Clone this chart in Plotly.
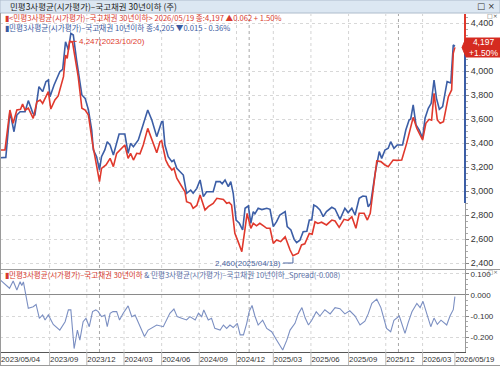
import pandas as pd
import plotly.graph_objects as go

START = pd.Timestamp("2023-05-04")
W, H = 500, 368

# ---- data (day offset from 2023-05-04, value) ----
red_days = [0, 11, 23, 31, 40, 49, 54, 60, 68, 80, 89, 97, 103, 117, 123, 133, 141, 154, 159, 163, 169, 176,
            190, 199, 207, 215, 225, 231, 242, 247, 258, 268, 276, 284, 304, 312, 318, 325, 333, 341, 349, 360,
            370, 382, 390, 394, 404, 410, 419, 424, 431, 443, 451, 455, 465, 471, 480, 488, 500, 508, 520, 529,
            545, 553, 559, 565, 573, 581, 590, 598, 603, 612, 618, 626, 634, 643, 651, 659, 667, 675, 685, 696,
            701, 708, 715, 728, 736, 744, 755, 762, 769, 776, 785, 797, 810, 818, 828, 840, 850, 859, 869, 877,
            889, 897, 904, 920, 930, 940, 948, 960, 969, 981, 993, 1003, 1009, 1018, 1026, 1032, 1040, 1048,
            1054, 1060, 1068, 1075, 1083, 1095, 1103, 1107, 1111]
red_vals = [3342, 3342, 3675, 3564, 3675, 3680, 3725, 3675, 3690, 3606, 3744, 3758, 3730, 3828, 3683, 3758, 3792,
            3953, 4133, 4106, 4247, 4240, 3953, 3689, 3675, 3633, 3397, 3286, 3078, 3189, 3217, 3272, 3203, 3314,
            3383, 3272, 3314, 3258, 3314, 3310, 3383, 3522, 3425, 3319, 3411, 3419, 3258, 3217, 3175, 3190, 3106,
            3036, 2994, 2911, 2897, 2856, 2880, 2967, 2842, 2870, 2897, 2939, 2930, 2897, 2905, 2883, 2647, 2578,
            2494, 2689, 2814, 2689, 2731, 2710, 2731, 2710, 2689, 2689, 2564, 2592, 2578, 2619, 2564, 2508, 2460,
            2481, 2550, 2560, 2647, 2640, 2744, 2730, 2740, 2717, 2758, 2750, 2697, 2764, 2755, 2786, 2689, 2814,
            2814, 2758, 2814, 3250, 3245, 3217, 3203, 3258, 3255, 3258, 3397, 3536, 3614, 3522, 3467, 3425, 3564,
            3597, 3590, 3814, 3592, 3564, 3578, 3786, 3842, 4147, 4197]

blue_days = [0, 13, 23, 33, 40, 48, 60, 68, 79, 84, 94, 103, 111, 117, 121, 131, 145, 152, 159, 166, 172, 178,
             186, 199, 207, 215, 223, 227, 235, 242, 247, 255, 261, 268, 276, 282, 290, 304, 312, 318, 325, 337,
             348, 360, 370, 382, 394, 397, 402, 410, 419, 424, 431, 439, 447, 455, 465, 471, 480, 488, 496, 504,
             520, 527, 537, 542, 549, 557, 563, 569, 576, 584, 592, 598, 606, 612, 618, 622, 630, 639, 651, 659,
             667, 675, 683, 696, 701, 710, 718, 724, 732, 740, 749, 755, 761, 766, 773, 781, 789, 797, 810, 818,
             830, 842, 850, 859, 867, 877, 886, 894, 899, 905, 916, 926, 932, 940, 948, 954, 962, 970, 983, 991,
             999, 1003, 1009, 1016, 1024, 1032, 1038, 1046, 1053, 1060, 1066, 1073, 1081, 1092, 1101, 1107, 1111]
blue_vals = [3277, 3280, 3661, 3494, 3633, 3661, 3661, 3753, 3650, 3630, 3869, 3828, 3911, 3925, 3786, 3883, 3994,
             4014, 4244, 4175, 4314, 4300, 4092, 3800, 3772, 3675, 3508, 3342, 3286, 3175, 3286, 3342, 3411, 3383,
             3300, 3369, 3475, 3475, 3314, 3397, 3369, 3425, 3536, 3675, 3592, 3453, 3578, 3580, 3383, 3286, 3244,
             3258, 3189, 3161, 3133, 2981, 3008, 2981, 3022, 3092, 2953, 2994, 2994, 3078, 3078, 3060, 3092, 3036,
             3078, 2981, 2758, 2731, 2675, 2856, 2875, 2731, 2828, 2810, 2856, 2845, 2856, 2847, 2703, 2744, 2800,
             2828, 2703, 2675, 2597, 2569, 2590, 2661, 2665, 2758, 2758, 2883, 2870, 2842, 2786, 2828, 2864, 2850,
             2764, 2856, 2820, 2856, 2800, 2939, 2958, 2955, 2869, 2897, 3147, 3328, 3272, 3342, 3356, 3411, 3356,
             3383, 3383, 3508, 3592, 3600, 3717, 3550, 3508, 3439, 3606, 3689, 3731, 3925, 3772, 3681, 3703, 3911,
             3900, 4217, 4205]

spread_days = [0, 13, 22, 31, 40, 48, 52, 56, 68, 80, 87, 95, 103, 109, 117, 129, 145, 158, 166, 172, 180, 188,
               194, 202, 209, 217, 225, 233, 239, 247, 255, 261, 268, 275, 284, 291, 300, 312, 321, 329, 341, 352,
               361, 370, 382, 398, 406, 414, 424, 432, 443, 455, 463, 476, 484, 492, 497, 508, 516, 524, 537, 545,
               553, 561, 569, 579, 586, 594, 602, 608, 615, 622, 630, 641, 651, 663, 675, 690, 700, 708, 720, 728,
               737, 745, 753, 761, 772, 781, 793, 806, 818, 830, 842, 854, 867, 879, 891, 899, 908, 920, 930, 944,
               954, 962, 975, 989, 997, 1006, 1018, 1026, 1033, 1043, 1052, 1060, 1068, 1077, 1091, 1099, 1107, 1111]
spread_vals = [0.071, 0.048, 0.032, 0.067, 0.024, 0.063, 0.045, 0.062, -0.063, -0.056, -0.045, -0.111, -0.095,
               -0.119, -0.095, -0.140, -0.167, -0.127, -0.071, -0.071, -0.255, -0.167, -0.215, -0.127, -0.111,
               -0.151, -0.079, -0.071, -0.079, -0.103, -0.095, -0.151, -0.087, -0.079, -0.079, -0.119, -0.087,
               -0.052, -0.103, -0.095, -0.151, -0.198, -0.167, -0.155, -0.143, -0.151, -0.119, -0.087, -0.067,
               -0.103, -0.111, -0.119, -0.103, -0.119, -0.087, -0.103, -0.071, -0.119, -0.111, -0.159, -0.167,
               -0.143, -0.159, -0.143, -0.155, -0.135, -0.190, -0.190, -0.135, -0.079, -0.050, -0.100, -0.143,
               -0.120, -0.159, -0.175, -0.214, -0.262, -0.215, -0.167, -0.135, -0.090, -0.060, -0.110, -0.143,
               -0.120, -0.080, -0.100, -0.070, -0.090, -0.060, -0.065, -0.090, -0.075, -0.100, -0.143, -0.125,
               -0.090, -0.040, -0.020, -0.060, -0.159, -0.175, -0.120, -0.100, -0.183, -0.130, -0.080, -0.040,
               -0.060, -0.030, -0.090, -0.151, -0.110, -0.140, -0.120, -0.143, -0.100, -0.070, -0.008]

tick_dates = ["2023-05-04", "2023-09-01", "2023-12-01", "2024-03-01", "2024-06-01", "2024-09-01", "2024-12-01",
              "2025-03-01", "2025-06-01", "2025-09-01", "2025-12-01", "2026-03-01", "2026-05-19"]
tick_labels = ["2023/05/04", "2023/09", "2023/12", "2024/03", "2024/06", "2024/09", "2024/12",
               "2025/03", "2025/06", "2025/09", "2025/12", "2026/03", "2026/05/19"]
year_lines = ["2024-01-01", "2025-01-01", "2026-01-01"]
main_ticks = [2400, 2600, 2800, 3000, 3200, 3400, 3600, 3800, 4000, 4400]
spread_ticks = [0.1, 0.0, -0.1, -0.2]
spread_tick_text = ["0.100", "0.000", "-0.100", "-0.200"]

max_label = "4,247(2023/10/20)"
min_label = "2,460(2025/04/18)"
max_day, max_val = 169, 4247
min_day, min_val = 715, 2460

RED = "#e0392d"
BLUE = "#3c5ea6"
SPREAD = "#7b8fc2"
NARROW = "Liberation Sans Narrow, Arial Narrow, Noto Sans CJK KR, sans-serif"
TICKFONT = "Liberation Sans Narrow, Arial Narrow, Liberation Sans, sans-serif"


def dates(days):
    return [START + pd.Timedelta(days=int(d)) for d in days]


def xp(p):
    return p / W


def yp(p):
    return 1 - p / H


PX_PER_DAY = 0.409
X0 = 0.5
RIGHT = 465
x_left = START + pd.Timedelta(days=(0 - X0) / PX_PER_DAY)
x_right = START + pd.Timedelta(days=(RIGHT - X0) / PX_PER_DAY)

fig = go.Figure()
fig.add_trace(go.Scatter(x=dates(blue_days), y=blue_vals, mode="lines",
                         line=dict(color=BLUE, width=1.6), xaxis="x", yaxis="y", showlegend=False))
fig.add_trace(go.Scatter(x=dates(red_days), y=red_vals, mode="lines",
                         line=dict(color=RED, width=1.6), xaxis="x", yaxis="y", showlegend=False))
fig.add_trace(go.Scatter(x=dates(spread_days), y=spread_vals, mode="lines",
                         line=dict(color=SPREAD, width=1.1), xaxis="x", yaxis="y2", showlegend=False))

shapes = []
# title bar
shapes.append(dict(type="rect", xref="paper", yref="paper", x0=0, x1=1, y0=yp(13), y1=1,
                   fillcolor="#dce7f2", line=dict(color="#aebccc", width=1), layer="below"))
# vertical gridlines
for d in tick_dates[1:-1]:
    shapes.append(dict(type="line", xref="x", yref="paper", x0=d, x1=d, y0=yp(352), y1=yp(14),
                       line=dict(color="#d4d4d4", width=1, dash="dot"), layer="below"))
for d in year_lines:
    shapes.append(dict(type="line", xref="x", yref="paper", x0=d, x1=d, y0=yp(352), y1=yp(14),
                       line=dict(color="#a8a8a8", width=1, dash="dot"), layer="below"))
# tick separators in the date row
for d in tick_dates[1:]:
    shapes.append(dict(type="line", xref="x", yref="paper", x0=d, x1=d, y0=yp(365), y1=yp(352),
                       line=dict(color="#b8b8b8", width=1)))
# panel separator, bottom border, left border
shapes.append(dict(type="line", xref="paper", yref="paper", x0=0, x1=1, y0=yp(269.5), y1=yp(269.5),
                   line=dict(color="#9a9a9a", width=1)))
shapes.append(dict(type="line", xref="paper", yref="paper", x0=0, x1=1, y0=yp(365.5), y1=yp(365.5),
                   line=dict(color="#9a9a9a", width=1)))
shapes.append(dict(type="line", xref="paper", yref="paper", x0=xp(0.5), x1=xp(0.5), y0=yp(366), y1=yp(13),
                   line=dict(color="#9a9a9a", width=1)))
# coloured right-axis segments
shapes.append(dict(type="line", xref="paper", yref="y", x0=xp(RIGHT), x1=xp(RIGHT), y0=4197, y1=4475,
                   line=dict(color=RED, width=2)))
shapes.append(dict(type="line", xref="paper", yref="y", x0=xp(RIGHT), x1=xp(RIGHT), y0=2900, y1=4197,
                   line=dict(color=BLUE, width=2)))
# last value box
shapes.append(dict(type="path", xref="paper", yref="paper",
                   path=f"M {xp(462)},{yp(47.5)} L {xp(466)},{yp(38)} L 1,{yp(38)} L 1,{yp(57)} L {xp(466)},{yp(57)} Z",
                   fillcolor="#d52b20", line=dict(color="#d52b20", width=1)))
# min leader
min_date = START + pd.Timedelta(days=min_day)
shapes.append(dict(type="path", xref="x", yref="y",
                   path=(f"M {(START + pd.Timedelta(days=691)).strftime('%Y-%m-%d')},2400 "
                         f"L {min_date.strftime('%Y-%m-%d')},2400 L {min_date.strftime('%Y-%m-%d')},2448"),
                   line=dict(color="#4a64a0", width=1)))

ann = []
ann.append(dict(xref="paper", yref="paper", x=xp(8), y=yp(6.5), xanchor="left", yanchor="middle",
                text="민평3사평균(시가평가)–국고채권 30년이하 (주)", showarrow=False,
                font=dict(family=NARROW, size=8.5, color="#222")))
ann.append(dict(xref="paper", yref="paper", x=xp(497), y=yp(6.5), xanchor="right", yanchor="middle",
                text="□ ×", showarrow=False, font=dict(family="DejaVu Sans", size=8.5, color="#333")))
ann.append(dict(xref="paper", yref="paper", x=xp(3), y=yp(17), xanchor="left", yanchor="middle",
                text="▮<민평3사평균(시가평가)–국고채권 30년이하> 2026/05/19 종:4,197 ▲0.062 + 1.50%",
                showarrow=False, font=dict(family=NARROW, size=7.6, color="#d83a2e")))
ann.append(dict(xref="paper", yref="paper", x=xp(3), y=yp(27.5), xanchor="left", yanchor="middle",
                text="▮민평3사평균(시가평가)–국고채권 10년이하 종:4,205 ▼0.015 - 0.36%",
                showarrow=False, font=dict(family=NARROW, size=7.6, color="#3b5aa0")))
ann.append(dict(xref="paper", yref="paper", x=xp(500), y=yp(15), xanchor="right", yanchor="middle",
                text="□×", showarrow=False, font=dict(family="DejaVu Sans", size=6, color="#555")))
ann.append(dict(xref="paper", yref="paper", x=xp(500), y=yp(272), xanchor="right", yanchor="middle",
                text="□×", showarrow=False, font=dict(family="DejaVu Sans", size=5.5, color="#555")))
ann.append(dict(xref="paper", yref="paper", x=xp(3), y=yp(274.5), xanchor="left", yanchor="middle",
                text=("<span style='color:#d83a2e'>▮민평3사평균(시가평가)–국고채권 30년이하</span>"
                      "<span style='color:#5a70a8'> & 민평3사평균(시가평가)–국고채권 10년이하_Spread(-0.008)</span>"),
                showarrow=False, font=dict(family=NARROW, size=7.5, color="#5a70a8")))
# value box text
ann.append(dict(xref="paper", yref="paper", x=xp(484), y=yp(47.5), xanchor="center", yanchor="middle",
                text="4,197<br>+1.50%", showarrow=False,
                font=dict(family=TICKFONT, size=8.5, color="white")))
# max / min annotations
ann.append(dict(xref="x", yref="y", x=START + pd.Timedelta(days=max_day), y=max_val, text=max_label,
                showarrow=True, arrowhead=0, arrowwidth=1, arrowcolor=RED, ax=7, ay=0,
                xanchor="left", yanchor="middle", font=dict(family=TICKFONT, size=8, color=RED)))
ann.append(dict(xref="x", yref="y", x=START + pd.Timedelta(days=690), y=2400, text=min_label,
                showarrow=False, xanchor="right", yanchor="middle",
                font=dict(family=TICKFONT, size=8, color="#4a64a0")))

fig.update_layout(
    width=W, height=H, margin=dict(l=0, r=0, t=0, b=0, autoexpand=False),
    paper_bgcolor="white", plot_bgcolor="white",
    shapes=shapes, annotations=ann,
    xaxis=dict(type="date", domain=[0, xp(RIGHT)], range=[x_left, x_right], anchor="y2",
               tickvals=tick_dates, ticktext=tick_labels, ticks="", showgrid=False,
               ticklabelposition="outside right", tickangle=0, ticklabeloverflow="allow",
               automargin=False,
               tickfont=dict(family=TICKFONT, size=7.8, color="#333"),
               showline=True, linecolor="#555", linewidth=1, zeroline=False),
    yaxis=dict(domain=[yp(269), yp(14)], range=[2350, 4475], side="right", anchor="x",
               tickvals=main_ticks, ticktext=[f"{v:,}" for v in main_ticks], automargin=False,
               ticks="outside", ticklen=3, tickcolor="#888",
               minor=dict(dtick=50, ticks="outside", ticklen=2, tickcolor="#aaa", showgrid=False),
               showgrid=True, gridcolor="#d8d8d8", griddash="dot",
               showline=True, linecolor="#999", linewidth=1, zeroline=False,
               tickfont=dict(family=TICKFONT, size=9, color="#333")),
    yaxis2=dict(domain=[yp(352), yp(270)], range=[-0.2714, 0.119], side="right", anchor="x",
                tickvals=spread_ticks, ticktext=spread_tick_text, automargin=False,
                ticks="outside", ticklen=3, tickcolor="#888",
                minor=dict(dtick=0.025, ticks="outside", ticklen=2, tickcolor="#aaa", showgrid=False),
                showgrid=True, gridcolor="#d8d8d8", griddash="dot",
                zeroline=True, zerolinecolor="#8a8a8a", zerolinewidth=1,
                showline=True, linecolor="#999", linewidth=1,
                tickfont=dict(family=TICKFONT, size=8, color="#333")),
)

fig.write_html("out.html")
